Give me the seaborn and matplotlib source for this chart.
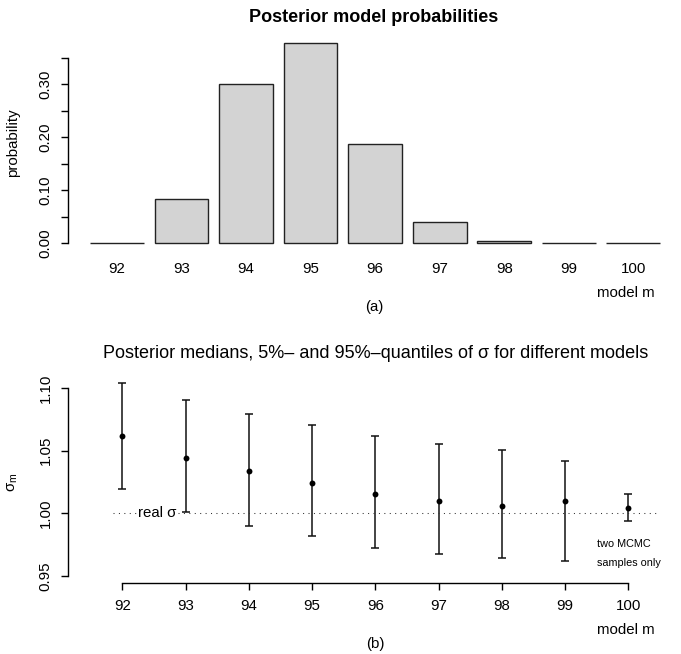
import matplotlib
matplotlib.use("Agg")
import matplotlib.pyplot as plt
import seaborn as sns
import numpy as np
import pandas as pd

# ---- data ----
models = [92, 93, 94, 95, 96, 97, 98, 99, 100]
probs = [0.0012, 0.084, 0.300, 0.378, 0.187, 0.041, 0.004, 0.0005, 0.0005]
medians = [1.062, 1.044, 1.0335, 1.024, 1.0155, 1.010, 1.0055, 1.010, 1.004]
q05 = [1.019, 1.001, 0.990, 0.9815, 0.9725, 0.9675, 0.9645, 0.962, 0.9935]
q95 = [1.104, 1.090, 1.079, 1.0705, 1.0615, 1.0555, 1.0505, 1.042, 1.015]
prob_ticks = [0.00, 0.05, 0.10, 0.15, 0.20, 0.25, 0.30, 0.35]
prob_ticklabels = ["0.00", "", "0.10", "", "0.20", "", "0.30", ""]
sigma_ticks = [0.95, 1.00, 1.05, 1.10]
sigma_ticklabels = ["0.95", "1.00", "1.05", "1.10"]

sns.set_style("ticks")
plt.rcParams["font.family"] = ["Liberation Sans", "DejaVu Sans"]
plt.rcParams["mathtext.fontset"] = "custom"
plt.rcParams["mathtext.rm"] = "Liberation Sans"
plt.rcParams["mathtext.it"] = "Liberation Sans:italic"
plt.rcParams["axes.linewidth"] = 1.0
for k in ["text.color", "axes.labelcolor", "xtick.color", "ytick.color",
          "axes.edgecolor"]:
    plt.rcParams[k] = "black"

W, H = 681, 654
fig = plt.figure(figsize=(W / 100, H / 100), dpi=100)

def fx(px):
    return px / W

def fy(py):
    return 1 - py / H

FS = 10.8

# ---- top: bar chart ----
ax1 = fig.add_axes([fx(67.7), fy(251.3), fx(681 - 67.7), (251.3 - 35) / H])
df1 = pd.DataFrame({"model": [str(m) for m in models], "prob": probs})
sns.barplot(data=df1, x="model", y="prob", order=[str(m) for m in models],
            color="#D3D3D3", saturation=1, edgecolor="#222222", linewidth=1.0,
            width=0.833, ax=ax1)
ax1.set_xlim(-0.764, 8.739)
ax1.set_ylim(-0.0151, 0.393)
for s in ["top", "right", "bottom"]:
    ax1.spines[s].set_visible(False)
ax1.spines["left"].set_bounds(0, 0.35)
ax1.set_yticks(prob_ticks)
ax1.set_yticklabels(prob_ticklabels, rotation=90, va="center", fontsize=FS)
ax1.tick_params(axis="y", length=5, width=1.0, pad=6)
ax1.tick_params(axis="x", length=0, pad=8, labelsize=FS)
ax1.set_xlabel("")
ax1.set_ylabel("probability", fontsize=FS)
ax1.yaxis.set_label_coords((20 - 67.7) / (681 - 67.7), 0.5)
fig.text(fx(374), fy(18), "Posterior model probabilities", ha="center",
         va="center", fontsize=13, fontweight="bold")
fig.text(fx(626), fy(293), "model m", ha="center", va="center", fontsize=FS)
fig.text(fx(374), fy(307), "(a)", ha="center", va="center", fontsize=FS)

# ---- bottom: medians with quantile bars ----
ax2 = fig.add_axes([fx(67.7), fy(583.3), fx(681 - 67.7), (583.3 - 380.4) / H])
df2 = pd.DataFrame({"model": models, "median": medians, "lo": q05, "hi": q95})
ax2.errorbar(df2["model"], df2["median"],
             yerr=[df2["median"] - df2["lo"], df2["hi"] - df2["median"]],
             fmt="none", ecolor="#111111", elinewidth=1.1, capsize=3.2,
             capthick=1.1)
sns.scatterplot(data=df2, x="model", y="median", color="black", s=18,
                edgecolor="black", linewidth=0, ax=ax2, zorder=5)
ax2.hlines(1.0, 91.85, 100.47, colors="#333333", linewidth=0.75,
           linestyles=(0, (1.0, 4.2)))
ax2.text(92.25, 1.0, "real σ", ha="left", va="center", fontsize=FS,
         bbox=dict(facecolor="white", edgecolor="none", pad=0.3), zorder=4)
ax2.text(99.5, 0.975, "two MCMC", ha="left", va="center", fontsize=7.8)
ax2.text(99.5, 0.960, "samples only", ha="left", va="center", fontsize=7.8)
ax2.set_xlim(91.137, 100.833)
ax2.set_ylim(0.944, 1.106)
for s in ["top", "right"]:
    ax2.spines[s].set_visible(False)
ax2.spines["left"].set_bounds(0.95, 1.10)
ax2.spines["bottom"].set_bounds(92, 100)
ax2.set_xticks(models)
ax2.set_xticklabels([str(m) for m in models], fontsize=FS)
ax2.set_yticks(sigma_ticks)
ax2.set_yticklabels(sigma_ticklabels, rotation=90, va="center", fontsize=FS)
ax2.tick_params(axis="both", length=5, width=1.0, pad=6)
ax2.set_xlabel("")
ax2.set_ylabel("σ$_\\mathrm{m}$", fontsize=FS)
ax2.yaxis.set_label_coords((20 - 67.7) / (681 - 67.7), 0.5)
fig.text(fx(376), fy(354),
         "Posterior medians, 5%– and 95%–quantiles of σ for different models",
         ha="center", va="center", fontsize=13)
fig.text(fx(626), fy(630), "model m", ha="center", va="center", fontsize=FS)
fig.text(fx(375), fy(644), "(b)", ha="center", va="center", fontsize=FS)

fig.savefig("out.png", dpi=100)
